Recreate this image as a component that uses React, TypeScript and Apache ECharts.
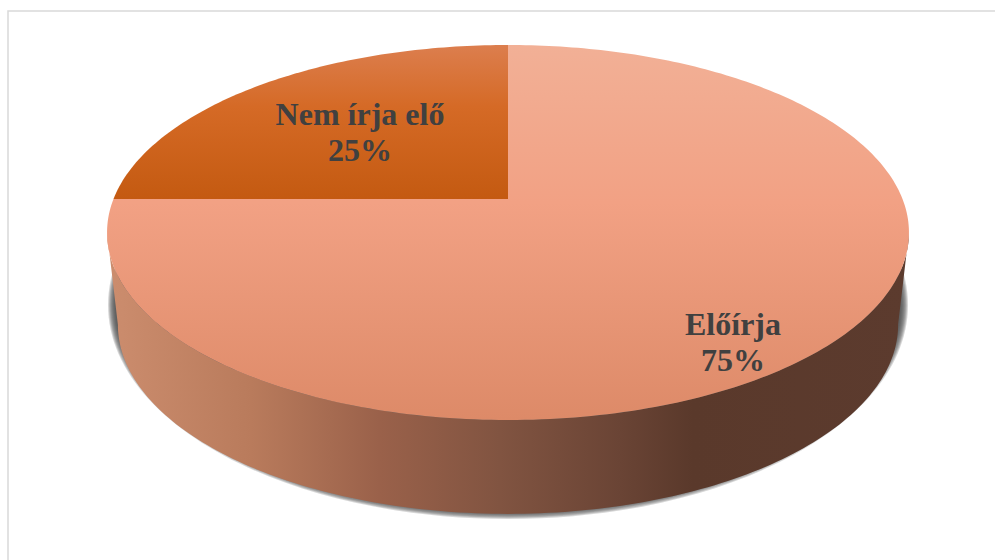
import React, { useEffect, useRef } from "react";
import * as echarts from "echarts";

const categories = ["Előírja", "Nem írja elő"];
const values = [75, 25];

const TEXT_COLOR = "#404040";
const LABEL_CENTERS = [[733, 342], [360, 131.5]];
const CX = 508;
const A = 394.5;
const K = -0.1787;
const YA = 145.96;
const Y0 = 199;
const ELLIPSE_CY = 232.5;
const DEPTH = 92;
const BOTTOM_SX = 0.973;
const BOTTOM_SY = 1.01;
const SHADOW_LAYERS = 8;

const project = (deg: number) => {
  const t = (deg * Math.PI) / 180;
  const u = Math.sin(t);
  const v = -Math.cos(t);
  const w = 1 + K * v;
  return [CX + (A * u) / w, (YA * v + Y0) / w];
};
const lower = (p: number[]) => [
  CX + (p[0] - CX) * BOTTOM_SX,
  ELLIPSE_CY + DEPTH + (p[1] - ELLIPSE_CY) * BOTTOM_SY,
];
const VIS_START = 100.3;
const VIS_END = 259.7;

const arcPoints = (a: number, b: number) => {
  const n = Math.max(2, Math.ceil(Math.abs(b - a)));
  const pts: number[][] = [];
  for (let i = 0; i <= n; i++) pts.push(project(a + ((b - a) * i) / n));
  return pts;
};
const lg = (x: number, y: number, x2: number, y2: number, stops: [number, string][]) =>
  new echarts.graphic.LinearGradient(
    x, y, x2, y2,
    stops.map(([offset, color]) => ({ offset, color })),
  );

const TOP_FILLS = [
  lg(0, 0, 0, 1, [[0, "#F2B096"], [0.42, "#F2A184"], [1, "#DD8A68"]]),
  lg(0, 0, 0, 1, [[0, "#DC7E4E"], [0.4, "#D56A26"], [1, "#C45A11"]]),
];
const SIDE_FILLS = [
  lg(0, 0, 1, 0, [
    [0, "#CC8D6E"],
    [0.18, "#B97B5C"],
    [0.34, "#9A614A"],
    [0.49, "#815441"],
    [0.64, "#6A4435"],
    [0.73, "#5A392B"],
    [1, "#5C3B2E"],
  ]),
  lg(0, 0, 1, 0, [[0, "#8A4A20"], [1, "#8A4A20"]]),
];

const total = values.reduce((s, x) => s + x, 0);

const shadowLayers = Array.from({ length: SHADOW_LAYERS }, (_, l) => {
  const f = 1 - l / (SHADOW_LAYERS - 1);
  return {
    type: "ellipse",
    silent: true,
    z: 0,
    shape: { cx: CX, cy: 305, rx: 393 + 7 * f, ry: 207 + 7 * f },
    style: { fill: "#484848", opacity: 0.22 },
  };
});

function renderItem(params: any, api: any) {
  const i = params.dataIndex;
  const value = api.value(0);
  let before = 0;
  for (let j = 0; j < i; j++) before += values[j];
  const start = (before / total) * 360;
  const end = start + (value / total) * 360;
  const children: any[] = [];
  const visA = Math.max(start, VIS_START);
  const visB = Math.min(end, VIS_END);
  if (visB > visA) {
    const rim = arcPoints(visA, visB);
    children.push({
      type: "polygon",
      shape: { points: rim.concat(rim.map(lower).reverse()) },
      style: { fill: SIDE_FILLS[i] },
      z2: 1,
    });
  }
  children.push({
    type: "polygon",
    shape: { points: [[CX, Y0], ...arcPoints(start, end)] },
    style: { fill: TOP_FILLS[i] },
    z2: 2,
  });
  children.push({
    type: "text",
    style: {
      text: `${categories[i]}\n${Math.round((value / total) * 100)}%`,
      x: LABEL_CENTERS[i][0],
      y: LABEL_CENTERS[i][1],
      align: "center",
      verticalAlign: "middle",
      fontFamily: "Liberation Serif",
      fontWeight: "bold",
      fontSize: 32,
      lineHeight: 36,
      fill: TEXT_COLOR,
    },
    z2: 3,
  });
  return { type: "group", children };
}

export default function App() {
  const ref = useRef<HTMLDivElement>(null);
  useEffect(() => {
    document.body.style.margin = "0";
    document.body.style.background = "#fff";
    const chart = echarts.init(ref.current!, null, { renderer: "svg" });
    chart.setOption({
      animation: false,
      backgroundColor: "#fff",
      graphic: [
        {
          type: "rect",
          silent: true,
          z: -10,
          shape: { x: 8, y: 11, width: 1100, height: 700 },
          style: { fill: "#fff", stroke: "#D9D9D9", lineWidth: 1.5 },
        },
        ...shadowLayers,
      ],
      series: [
        {
          type: "custom",
          coordinateSystem: "none",
          silent: true,
          z: 5,
          data: values.map((v) => [v]),
          renderItem,
        },
      ],
    });
    return () => chart.dispose();
  }, []);
  return <div ref={ref} style={{ width: 995, height: 560 }} />;
}
